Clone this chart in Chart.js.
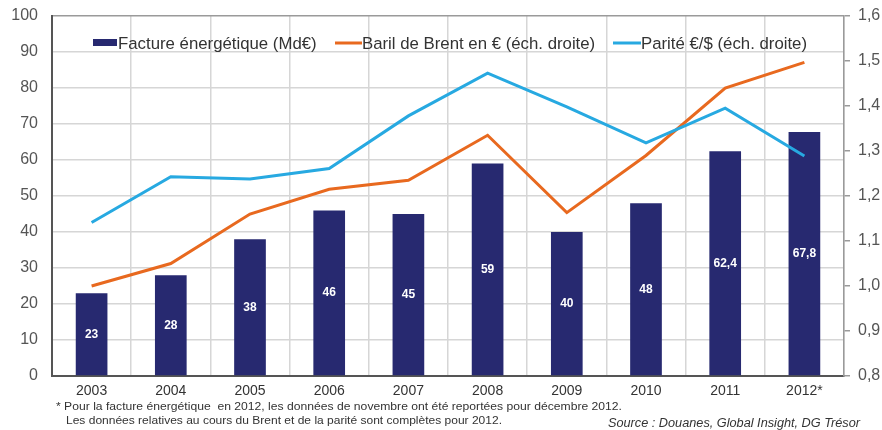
<!DOCTYPE html>
<html>
<head>
<meta charset="utf-8">
<script src="https://cdn.jsdelivr.net/npm/chart.js@4/dist/chart.umd.min.js"></script>
<style>
  html, body { margin: 0; padding: 0; background: #fff; }
  #wrap { position: relative; width: 882px; height: 430px; overflow: hidden; }
  canvas { position: absolute; left: 0; top: 0; }
  .note { position: absolute; font-family: "Liberation Sans", Arial, sans-serif; color: #333; white-space: nowrap; transform-origin: 0 50%; }
</style>
</head>
<body>
<div id="wrap">
  <canvas id="c" width="882" height="430"></canvas>
  <div class="note" id="n1" data-w="566" style="left:56px; top:400px; font-size:11px;">* Pour la facture énergétique&nbsp; en 2012, les données de novembre ont été reportées pour décembre 2012.</div>
  <div class="note" id="n2" data-w="436" style="left:66px; top:414px; font-size:11px;">Les données relatives au cours du Brent et de la parité sont complètes pour 2012.</div>
  <div class="note" id="n3" data-w="252" style="left:608px; top:416px; font-size:12px; font-style:italic;">Source : Douanes, Global Insight, DG Trésor</div>
</div>
<script>
const categories = ["2003", "2004", "2005", "2006", "2007", "2008", "2009", "2010", "2011", "2012*"];
const factureEnergetique = [23, 28, 38, 46, 45, 59, 40, 48, 62.4, 67.8];
const barilBrentEuro = [1.00, 1.05, 1.16, 1.215, 1.235, 1.335, 1.163, 1.29, 1.44, 1.497];
const pariteEuroDollar = [1.141, 1.243, 1.238, 1.261, 1.378, 1.473, 1.398, 1.318, 1.395, 1.289];
const seriesLabels = ["Facture énergétique (Md€)", "Baril de Brent en € (éch. droite)", "Parité €/$ (éch. droite)"];

const NAVY = "#272970";
const ORANGE = "#e8691f";
const BLUE = "#27a9e1";
const FONT = "'Liberation Sans', Arial, sans-serif";

const frNum = (v, d) => (d === undefined ? String(v) : v.toFixed(d)).replace(".", ",");

document.querySelectorAll(".note").forEach((el) => {
  const target = parseFloat(el.dataset.w);
  const w = el.getBoundingClientRect().width;
  if (w > 0) el.style.transform = "scaleX(" + (target / w) + ")";
});

const barLabels = {
  id: "barLabels",
  afterDatasetsDraw(chart) {
    const ctx = chart.ctx;
    const meta = chart.getDatasetMeta(0);
    ctx.save();
    ctx.fillStyle = "#ffffff";
    ctx.font = "bold 12px " + FONT;
    ctx.textAlign = "center";
    ctx.textBaseline = "middle";
    meta.data.forEach((bar, i) => {
      const y = (bar.y + bar.base) / 2;
      ctx.fillText(frNum(factureEnergetique[i]), bar.x, y);
    });
    ctx.restore();
  }
};

const insideLegend = {
  id: "insideLegend",
  afterDraw(chart) {
    const ctx = chart.ctx;
    ctx.save();
    ctx.font = "16.8px " + FONT;
    ctx.textBaseline = "middle";
    ctx.textAlign = "left";
    const y = 43;
    ctx.fillStyle = NAVY;
    ctx.fillRect(93, 39, 24, 7);
    ctx.fillStyle = "#333";
    ctx.fillText(seriesLabels[0], 118, y + 1);
    ctx.strokeStyle = ORANGE; ctx.lineWidth = 3;
    ctx.beginPath(); ctx.moveTo(335, y); ctx.lineTo(362, y); ctx.stroke();
    ctx.fillText(seriesLabels[1], 362, y + 1);
    ctx.strokeStyle = BLUE;
    ctx.beginPath(); ctx.moveTo(613, y); ctx.lineTo(641, y); ctx.stroke();
    ctx.fillText(seriesLabels[2], 641, y + 1);
    ctx.restore();
  }
};

new Chart(document.getElementById("c"), {
  data: {
    labels: categories,
    datasets: [
      { type: "bar", label: seriesLabels[0], data: factureEnergetique, backgroundColor: NAVY,
        yAxisID: "y", order: 3, categoryPercentage: 1.0, barPercentage: 0.4 },
      { type: "line", label: seriesLabels[1], data: barilBrentEuro, borderColor: ORANGE, borderWidth: 3,
        pointRadius: 0, tension: 0, yAxisID: "y1", order: 2 },
      { type: "line", label: seriesLabels[2], data: pariteEuroDollar, borderColor: BLUE, borderWidth: 3,
        pointRadius: 0, tension: 0, yAxisID: "y1", order: 1 }
    ]
  },
  options: {
    responsive: false,
    animation: false,
    layout: { padding: { top: 16, bottom: 0, left: 0, right: 0 } },
    plugins: { legend: { display: false }, tooltip: { enabled: false } },
    scales: {
      x: {
        grid: { offset: true, color: "#d6d6d6", lineWidth: 1.5, drawTicks: false },
        border: { color: "#555", width: 2 },
        ticks: { color: "#333", font: { family: FONT, size: 14 }, padding: 7 },
        afterFit(s) { s.height = 54; }
      },
      y: {
        position: "left", min: 0, max: 100,
        ticks: { stepSize: 10, color: "#555", font: { family: FONT, size: 16 }, padding: 14 },
        grid: { color: (c) => c.tick && c.tick.value === 100 ? "#9a9a9a" : "#d6d6d6", lineWidth: 1.5, drawTicks: false },
        border: { color: "#555", width: 2 },
        afterFit(s) { s.width = 52; s.paddingTop = 0; s.paddingBottom = 0; }
      },
      y1: {
        position: "right", min: 0.8, max: 1.6,
        ticks: { stepSize: 0.1, color: "#555", font: { family: FONT, size: 16 }, padding: 8,
                 callback: (v) => frNum(v, 1) },
        grid: { drawOnChartArea: false, drawTicks: true, tickLength: 6, color: "#9a9a9a", lineWidth: 1.5 },
        border: { color: "#9a9a9a", width: 1.5 },
        afterFit(s) { s.width = 38; s.paddingTop = 0; s.paddingBottom = 0; }
      }
    }
  },
  plugins: [barLabels, insideLegend]
});
</script>
</body>
</html>
